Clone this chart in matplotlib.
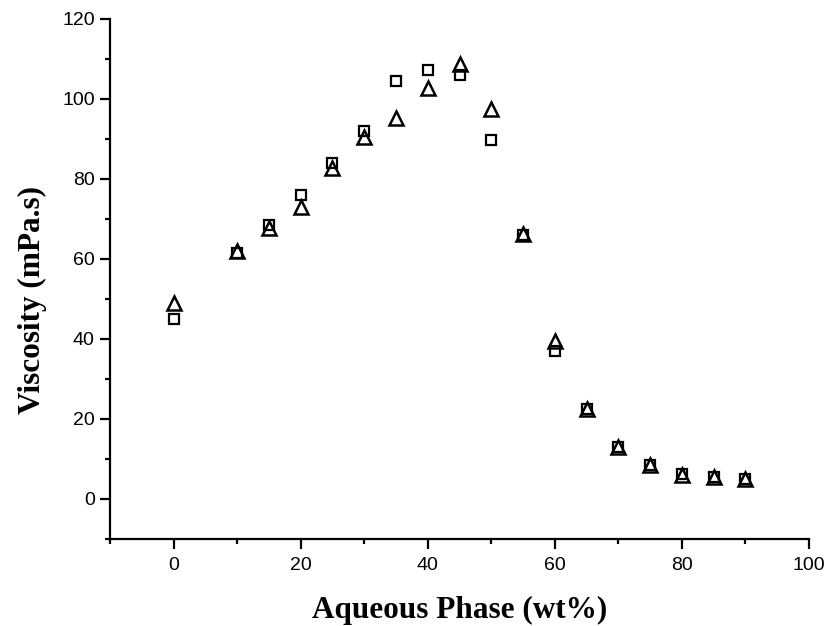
import matplotlib
matplotlib.use('Agg')
import matplotlib.pyplot as plt
from matplotlib.ticker import MultipleLocator

# aqueous phase content (wt%)
water = [0, 10, 15, 20, 25, 30, 35, 40, 45, 50, 55, 60, 65, 70, 75, 80, 85, 90]
# viscosity, two series (squares / triangles)
visc_sq = [45, 61.5, 68.5, 76, 84, 92, 104.5, 107.3, 106, 89.8, 66, 37, 22.5, 13, 8.5, 6.3, 5.5, 5]
visc_tri = [49, 62, 67.7, 73, 82.8, 90.5, 95.2, 102.8, 108.8, 97.5, 66.3, 39.6, 22.5, 13, 8.5, 6, 5.5, 5]

fig = plt.figure(figsize=(8.28, 6.26), dpi=100)
ax = fig.add_axes([0.133, 0.139, 0.844, 0.831])

ax.plot(water, visc_sq, linestyle='none', marker='s', ms=7.5, mfc='white',
        mec='black', mew=1.6)
ax.plot(water, visc_tri, linestyle='none', marker='^', ms=9.5, mfc='none',
        mec='black', mew=1.8)

ax.set_xlim(-10, 100)
ax.set_ylim(-10, 120)
ax.xaxis.set_major_locator(MultipleLocator(20))
ax.xaxis.set_minor_locator(MultipleLocator(10))
ax.yaxis.set_major_locator(MultipleLocator(20))
ax.yaxis.set_minor_locator(MultipleLocator(10))

for s in ['top', 'right']:
    ax.spines[s].set_visible(False)
for s in ['left', 'bottom']:
    ax.spines[s].set_linewidth(1.6)

ax.tick_params(which='major', direction='out', length=7, width=1.6,
               labelsize=14)
ax.tick_params(axis='x', which='major', pad=6)
ax.tick_params(axis='y', which='major', pad=4)
ax.tick_params(which='minor', direction='out', length=3.5, width=1.6)
for lab in ax.get_xticklabels() + ax.get_yticklabels():
    lab.set_family('Liberation Sans')

ax.set_xlabel('Aqueous Phase (wt%)', fontsize=22.5, fontweight='bold',
              family='Liberation Serif', labelpad=16)
ax.set_ylabel('Viscosity (mPa.s)', fontsize=22.5, fontweight='bold',
              family='Liberation Serif')
ax.yaxis.set_label_coords(-0.09, 0.46)

fig.savefig('out.png', dpi=100)
